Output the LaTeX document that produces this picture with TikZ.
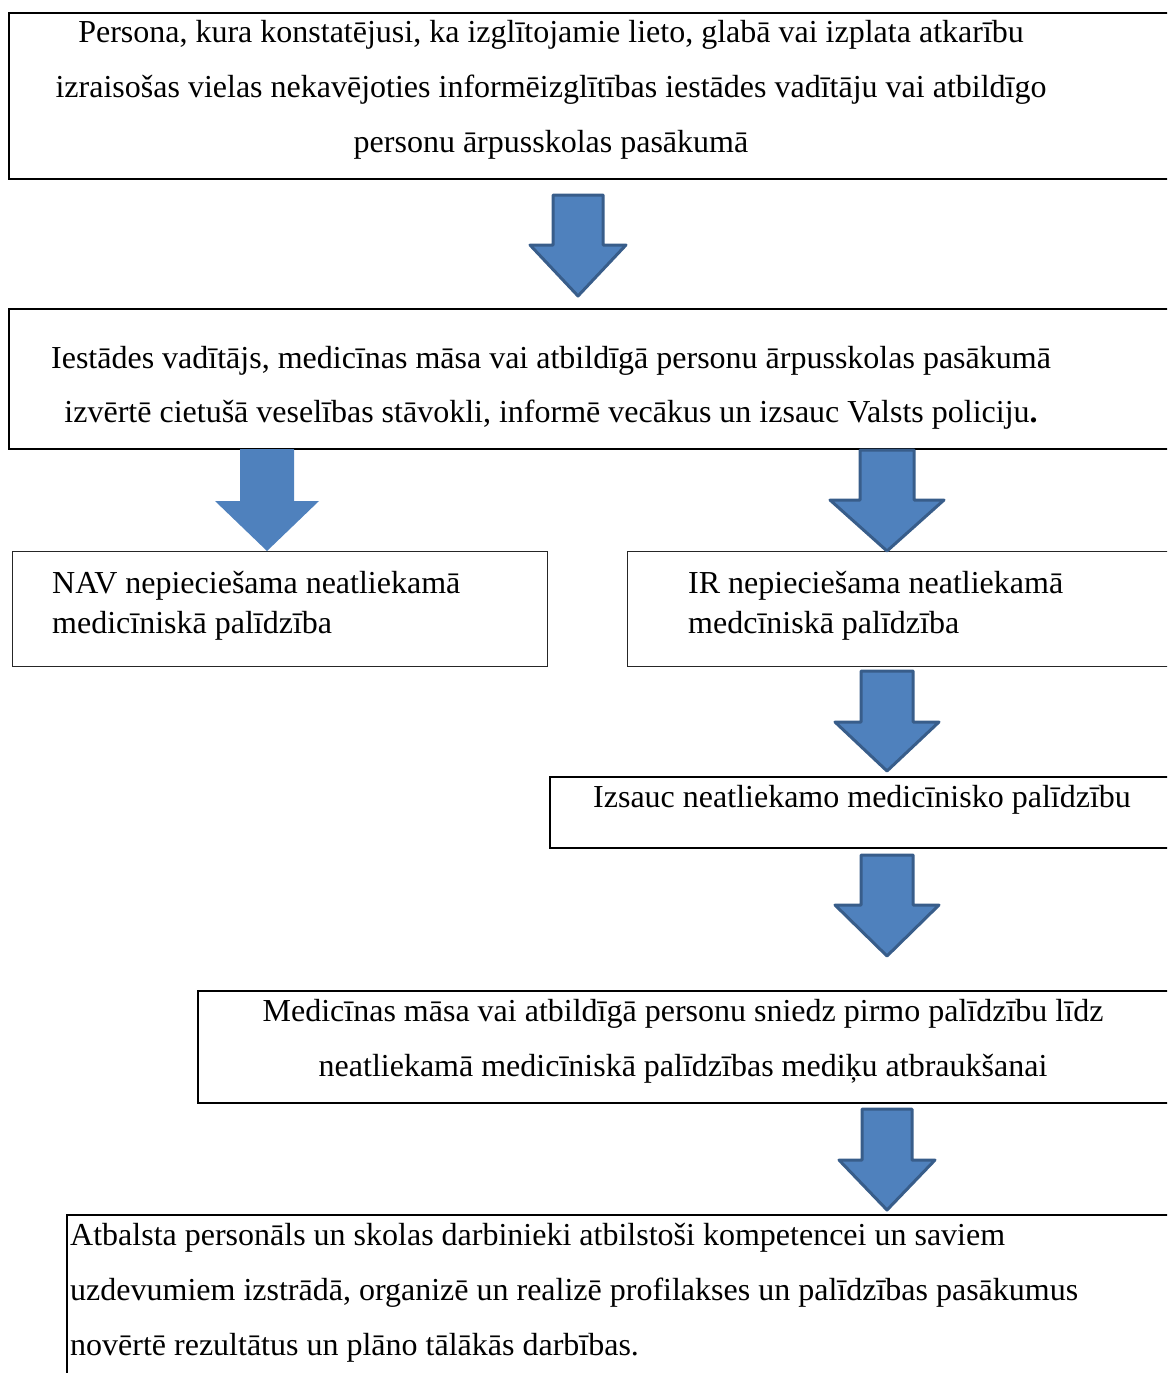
\documentclass[tikz,border=0pt]{standalone}
\usepackage{fontspec}
\setmainfont{Liberation Serif}
\definecolor{arrfill}{HTML}{4F81BD}
\definecolor{arrline}{HTML}{385D8A}
\tikzset{
  boxthick/.style={draw=black, line width=1.6pt, fill=none},
  boxthin/.style={draw=black!85, line width=1.2pt, fill=none},
  txt/.style={inner sep=0pt, anchor=base, font=\fontsize{32}{36}\selectfont},
  txtl/.style={inner sep=0pt, anchor=base west, font=\fontsize{32}{36}\selectfont},
  blockarrow/.style={fill=arrfill, draw=arrline, line width=3pt, line join=round},
  blockarrowplain/.style={fill=arrfill, draw=none},
}
% #1 style, #2 centre x, #3 top, #4 shaft half, #5 head half, #6 neck y, #7 tip y
\newcommand{\downblock}[7]{%
  \path[#1] (#2-#4,#3) -- (#2+#4,#3) -- (#2+#4,#6) -- (#2+#5,#6) -- (#2,#7)
    -- (#2-#5,#6) -- (#2-#4,#6) -- cycle;}
\begin{document}
\begin{tikzpicture}[x=1pt,y=-1pt]
\useasboundingbox (0,0) rectangle (1167,1373);
\clip (0,0) rectangle (1167,1373);
% boxes
\node[boxthick, anchor=north west, minimum width=1180pt, minimum height=166pt, inner sep=0pt] (b1) at (8,12) {};
\node[boxthick, anchor=north west, minimum width=1180pt, minimum height=140pt, inner sep=0pt] (b2) at (8,308) {};
\node[boxthin, anchor=north west, minimum width=535pt, minimum height=115pt, inner sep=0pt] (b3) at (12,551) {};
\node[boxthin, anchor=north west, minimum width=560pt, minimum height=115pt, inner sep=0pt] (b4) at (627,551) {};
\node[boxthick, anchor=north west, minimum width=640pt, minimum height=71pt, inner sep=0pt] (b5) at (549,776) {};
\node[boxthick, anchor=north west, minimum width=990pt, minimum height=112pt, inner sep=0pt] (b6) at (197,990) {};
\node[boxthick, anchor=north west, minimum width=1130pt, minimum height=200pt, inner sep=0pt] (b7) at (66,1214) {};
% texts
\node[txt] (t1a) at (551,42) {Persona, kura konstatējusi, ka izglītojamie lieto, glabā vai izplata atkarību};
\node[txt] (t1b) at (551,97) {izraisošas vielas nekavējoties informēizglītības iestādes vadītāju vai atbildīgo};
\node[txt] (t1c) at (551,152) {personu ārpusskolas pasākumā};
\node[txt] (t2a) at (551,368) {Iestādes vadītājs, medicīnas māsa vai atbildīgā personu ārpusskolas pasākumā};
\node[txt] (t2b) at (551,422) {izvērtē cietušā veselības stāvokli, informē vecākus un izsauc Valsts policiju\textbf{.}};
\node[txtl] (t3a) at (52,593) {NAV nepieciešama neatliekamā};
\node[txtl] (t3b) at (52,633) {medicīniskā palīdzība};
\node[txtl] (t4a) at (688,593) {IR nepieciešama neatliekamā};
\node[txtl] (t4b) at (688,633) {medcīniskā palīdzība};
\node[txt] (t5) at (862,807) {Izsauc neatliekamo medicīnisko palīdzību};
\node[txt] (t6a) at (683,1021) {Medicīnas māsa vai atbildīgā personu sniedz pirmo palīdzību līdz};
\node[txt] (t6b) at (683,1076) {neatliekamā medicīniskā palīdzības mediķu atbraukšanai};
\node[txtl] (t7a) at (70,1245) {Atbalsta personāls un skolas darbinieki atbilstoši kompetencei un saviem};
\node[txtl] (t7b) at (70,1300) {uzdevumiem izstrādā, organizē un realizē profilakses un palīdzības pasākumus};
\node[txtl] (t7c) at (70,1355) {novērtē rezultātus un plāno tālākās darbības.};
% block arrows
\downblock{blockarrow}{578}{195}{25}{48}{245}{296}
\downblock{blockarrowplain}{267}{449}{27}{52}{501}{551}
\downblock{blockarrow}{887}{450}{27}{57}{500}{551}
\downblock{blockarrow}{887}{671}{26}{52}{722}{771}
\downblock{blockarrow}{887}{855}{26}{52}{905}{956}
\downblock{blockarrow}{887}{1109}{25}{48}{1160}{1210}
\end{tikzpicture}
\end{document}
